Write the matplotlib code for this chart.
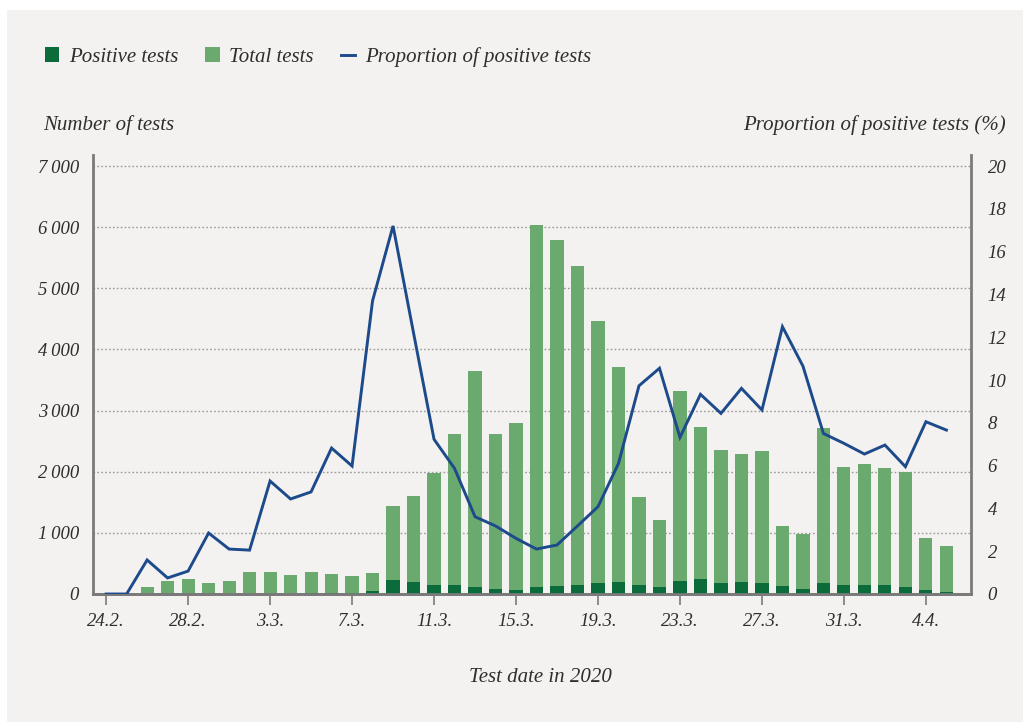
import numpy as np
import matplotlib as mpl
from matplotlib import pyplot as plt
from matplotlib.patches import Rectangle, Patch
from matplotlib.lines import Line2D

# days from 24.2.2020 to 5.4.2020
dates = ['24.2.', '25.2.', '26.2.', '27.2.', '28.2.', '29.2.', '1.3.', '2.3.',
         '3.3.', '4.3.', '5.3.', '6.3.', '7.3.', '8.3.', '9.3.', '10.3.',
         '11.3.', '12.3.', '13.3.', '14.3.', '15.3.', '16.3.', '17.3.', '18.3.',
         '19.3.', '20.3.', '21.3.', '22.3.', '23.3.', '24.3.', '25.3.', '26.3.',
         '27.3.', '28.3.', '29.3.', '30.3.', '31.3.', '1.4.', '2.4.', '3.4.',
         '4.4.', '5.4.']

total_tests = [0, 0, 110, 218, 245, 175, 218, 355, 355, 311, 355, 333, 290, 343,
               1440, 1604, 1986, 2618, 3655, 2618, 2804, 6028, 5782, 5368, 4457,
               3720, 1582, 1211, 3327, 2728, 2357, 2291, 2340, 1113, 982, 2711,
               2084, 2128, 2057, 1991, 911, 791]

positive_tests = [0, 0, 2, 2, 3, 5, 6, 7, 8, 8, 10, 20, 17, 47,
                  235, 190, 142, 150, 115, 80, 65, 120, 125, 150, 175,
                  200, 145, 120, 215, 240, 180, 195, 185, 135, 85, 180,
                  140, 140, 140, 110, 70, 40]

proportion = [0.0, 0.0, 1.59, 0.75, 1.07, 2.85, 2.1, 2.05, 5.28, 4.44, 4.77,
              6.82, 5.98, 13.7, 17.2, 12.2, 7.23, 5.87, 3.61, 3.18, 2.6, 2.1,
              2.29, 3.18, 4.08, 6.1, 9.73, 10.55, 7.32, 9.33, 8.44, 9.61, 8.6,
              12.49, 10.65, 7.5, 7.04, 6.54, 6.96, 5.95, 8.05, 7.66]

left_ticks = [0, 1000, 2000, 3000, 4000, 5000, 6000, 7000]
left_ticklabels = ['0', '1\u2009000', '2\u2009000', '3\u2009000', '4\u2009000',
                   '5\u2009000', '6\u2009000', '7\u2009000']
right_ticks = [0, 2, 4, 6, 8, 10, 12, 14, 16, 18, 20]

pColors = {'dark': '#0b6b3a',
           'light': '#6aaa6f',
           'blue': '#1c4a8b',
           'grey': '#7a7a7a',
           'text': '#2e2e2e',
           'bg': '#f3f2f0'}

mpl.rcParams['font.family'] = ['Liberation Serif', 'DejaVu Serif']
mpl.rcParams['font.style'] = 'italic'

fs = 13.5      # tick labels
lfs = 15.0     # axis labels and legend

f = plt.figure(figsize = (10.23, 7.22), dpi = 100)
f.patch.set_facecolor(pColors['bg'])
# white strips at the top and at the left edge
f.patches.append(Rectangle((0, 1 - 10 / 722), 1.0, 10 / 722,
                           transform = f.transFigure, facecolor = 'white',
                           edgecolor = 'none', zorder = -10))
f.patches.append(Rectangle((0, 0), 7 / 1023, 1.0,
                           transform = f.transFigure, facecolor = 'white',
                           edgecolor = 'none', zorder = -10))

ax1 = f.add_axes([93 / 1023, 1 - 594 / 722, (971 - 93) / 1023, (594 - 155) / 722])
ax1.set_facecolor('none')
ax2 = ax1.twinx()

x = np.arange(len(dates))
ymax = 7180.0

######################################################################################
# bars and line
ax1.bar(x, total_tests, width = 0.64, color = pColors['light'], zorder = 2)
ax1.bar(x, positive_tests, width = 0.64, color = pColors['dark'], zorder = 3)
ax2.plot(x, proportion, color = pColors['blue'], lw = 2.1, zorder = 4,
         solid_joinstyle = 'miter')

ax1.set_xlim(-0.64, 42.2)
ax1.set_ylim(0, ymax)
ax2.set_ylim(0, ymax / 7000 * 20)

######################################################################################
# grid
for val in left_ticks[1:]:
    ax1.axhline(val, color = '#9a9a9a', lw = 1.0, ls = (0, (1.2, 1.6)), zorder = 1)

######################################################################################
# spines and ticks
for ax in (ax1, ax2):
    ax.spines['top'].set_visible(False)
    for s in ('left', 'right', 'bottom'):
        ax.spines[s].set_color(pColors['grey'])
        ax.spines[s].set_linewidth(2.0)
ax1.spines['right'].set_visible(False)
ax2.spines['left'].set_visible(False)

ax1.set_yticks(left_ticks)
ax1.set_yticklabels(left_ticklabels, fontsize = fs)
ax2.set_yticks(right_ticks)
ax2.set_yticklabels([str(v) for v in right_ticks], fontsize = fs)
ax1.tick_params(axis = 'y', length = 0, pad = 10, colors = pColors['text'])
ax2.tick_params(axis = 'y', length = 0, pad = 12, colors = pColors['text'])

xt = x[::4]
ax1.set_xticks(xt)
ax1.set_xticklabels([dates[i] for i in xt], fontsize = fs, color = pColors['text'])
ax1.tick_params(axis = 'x', length = 8, width = 1.2, color = pColors['grey'],
                pad = 6, direction = 'out')

######################################################################################
# labels
f.text(43 / 1023, 1 - 125 / 722, 'Number of tests', fontsize = lfs,
       color = pColors['text'], va = 'center', ha = 'left')
f.text(1006 / 1023, 1 - 125 / 722, 'Proportion of positive tests (%)',
       fontsize = lfs, color = pColors['text'], va = 'center', ha = 'right')
f.text(540 / 1023, 1 - 678 / 722, 'Test date in 2020', fontsize = lfs,
       color = pColors['text'], va = 'center', ha = 'center')

######################################################################################
# legend
handles = [Patch(facecolor = pColors['dark'], edgecolor = 'none'),
           Patch(facecolor = pColors['light'], edgecolor = 'none'),
           Line2D([], [], color = pColors['blue'], lw = 2.1)]
labels = ['Positive tests', 'Total tests', 'Proportion of positive tests']
leg = f.legend(handles, labels, loc = 'center left',
               bbox_to_anchor = (26 / 1023, 1 - 57 / 722), ncol = 3,
               frameon = False, fontsize = lfs, handlelength = 0.7,
               handleheight = 0.75, handletextpad = 0.45, columnspacing = 1.3,
               labelcolor = pColors['text'])

f.savefig('out.png', dpi = 100, facecolor = f.get_facecolor())
plt.close()
